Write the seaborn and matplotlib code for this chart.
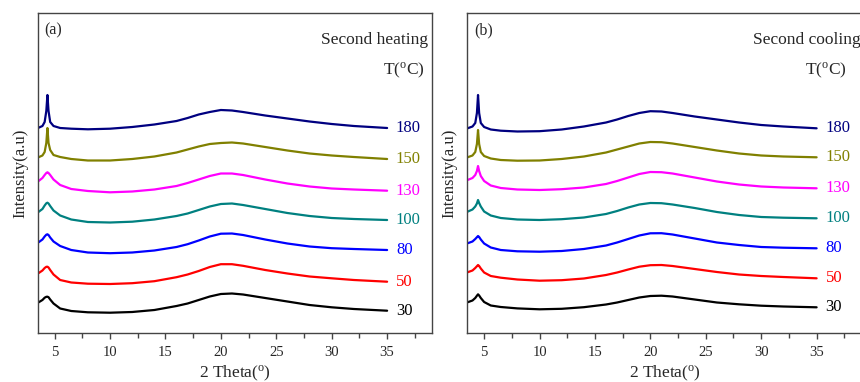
import matplotlib
matplotlib.use("Agg")
import matplotlib.pyplot as plt
import pandas as pd
import seaborn as sns
from matplotlib.ticker import MultipleLocator

# ---------------- data ----------------
temps = ["30", "50", "80", "100", "130", "150", "180"]
colors = ["#000000", "#FF0000", "#0000FF", "#008080", "#FF00FF", "#808000", "#000080"]
xticks = [5, 10, 15, 20, 25, 30, 35]

# (a) Second heating
x_heat = [3.5, 3.9, 4.1, 4.25, 4.35, 4.45, 4.6, 4.9, 5.5, 6.5, 8, 10, 12, 14, 16, 17, 18,
          19, 20, 21, 22, 24, 26, 28, 30, 32, 35]
heat_30 = [30.3, 33, 35.3, 36.2, 36.3, 35.8, 33.5, 29.5, 24.5, 22, 20.7, 20.3, 21, 23, 27,
           29.5, 33, 36.5, 39, 39.5, 38.5, 35, 31.5, 28, 25.7, 24, 22.3]
heat_50 = [59.5, 62.5, 65, 66.2, 66.3, 65.5, 63, 58.5, 53, 50.5, 49.3, 49, 49.8, 51.8, 55.8,
           58.5, 62, 66, 68.8, 68.8, 67.2, 63, 59.5, 56.5, 54.7, 53, 51.3]
heat_80 = [90.3, 93.5, 96.5, 98.3, 98.7, 98, 95.5, 91.5, 87, 83, 80.5, 79.8, 80.5, 82.5, 86,
           88.8, 92.5, 96.5, 99.3, 99.5, 98, 93.5, 89.5, 86.5, 84.8, 84, 83]
heat_100 = [120.7, 124, 127.5, 129.7, 130.3, 129.5, 127, 122.5, 117.5, 113.5, 111, 110.5,
            111.3, 113.5, 117, 119.5, 123, 126.5, 129, 129.5, 128, 124, 120, 117, 115, 114, 113]
heat_130 = [151.5, 155, 158, 160, 160.7, 160, 158, 153.5, 148, 144, 142, 140.7, 141.5, 143.5,
            147, 150, 153.5, 157, 159.5, 159.5, 158, 153.5, 149.5, 146.5, 144.5, 143.5, 142.3]
heat_150 = [175.5, 177.5, 181, 190, 205, 190, 183, 178, 176, 174, 172.5, 172.5, 174, 176.5,
            180.5, 183.5, 186.5, 189, 190, 190.5, 189.5, 186, 182.5, 179.5, 177.5, 176, 174]
heat_180 = [205, 207, 211, 222, 238, 222, 211, 207, 205, 204.3, 203.7, 204.3, 206, 208.5, 212,
            215, 218.5, 221, 223, 222.5, 221, 217.5, 214.5, 211.5, 209, 207, 205]

# (b) Second cooling
x_cool = [3.5, 3.95, 4.2, 4.35, 4.45, 4.55, 4.7, 5.0, 5.6, 6.5, 8, 10, 12, 14, 16, 17, 18,
          19, 20, 21, 22, 24, 26, 28, 30, 32, 35]
cool_30 = [30.7, 32.5, 35, 37.3, 38.7, 37.5, 35, 31, 27.5, 26, 24.6, 23.7, 24.2, 25.8, 28.5,
           30.5, 33, 35.5, 37, 37.3, 36.5, 33.5, 30.5, 28.7, 27.3, 26.5, 25.7]
cool_50 = [60.7, 62.5, 65, 66.8, 68, 67, 64.5, 60.5, 57, 55.3, 53.5, 52.3, 52.8, 54.5, 58,
           60.5, 63.5, 66.3, 67.8, 68, 67, 64, 61, 58.5, 57, 56, 54.7]
cool_80 = [89.7, 91.5, 94, 95.8, 97, 96, 93.5, 89.5, 85.5, 83, 81.7, 81.3, 82, 84, 87.5, 90.5,
           94, 97.5, 99.7, 99.8, 98.5, 94.5, 90.5, 88, 86, 85.3, 84.7]
cool_100 = [121.3, 123.5, 126.5, 129.5, 133, 130, 126.5, 121.5, 117.5, 115, 113.5, 113, 113.8,
            115.5, 119, 122, 125.5, 128.5, 130, 129.8, 128.5, 125, 121, 118, 116, 115.3, 114.7]
cool_130 = [153, 155, 158, 162, 167, 162, 157, 152, 147.5, 145, 143.5, 143, 143.8, 145.5, 149,
            152, 155.5, 159, 161, 160.8, 159.5, 155.5, 151.5, 148.5, 146.5, 145.5, 144.7]
cool_150 = [175.7, 177.5, 181, 189, 203, 189, 181, 177, 174.5, 173, 172.3, 172.5, 174, 176.5,
            180.5, 183.5, 186.5, 189.5, 191, 190.8, 189.5, 186, 182.5, 179.5, 177.5, 176.5, 175.7]
cool_180 = [204.7, 206.5, 210, 220, 238, 220, 210, 206, 203.5, 202.3, 201.5, 201.8, 203.5,
            206.5, 210.5, 213.5, 217, 220, 221.8, 221.5, 220, 216.5, 213.5, 210.5, 208, 206.5,
            204.7]

heat_series = [heat_30, heat_50, heat_80, heat_100, heat_130, heat_150, heat_180]
cool_series = [cool_30, cool_50, cool_80, cool_100, cool_130, cool_150, cool_180]


def long_df(xs, series):
    rows = []
    for t, ys in zip(temps, series):
        for xv, yv in zip(xs, ys):
            rows.append({"two_theta": xv, "intensity": yv, "T": t})
    return pd.DataFrame(rows)


df_heat = long_df(x_heat, heat_series)
df_cool = long_df(x_cool, cool_series)

# ---------------- style ----------------
sns.set_style("white")
plt.rcParams["font.family"] = ["Liberation Serif", "DejaVu Serif"]
plt.rcParams["mathtext.fontset"] = "custom"
plt.rcParams["mathtext.rm"] = "Liberation Serif"

palette = dict(zip(temps, colors))
spine_col = "#444444"

fig = plt.figure(figsize=(8.6, 3.82), dpi=100)
ax1 = fig.add_axes([38 / 860, 49 / 382, 394 / 860, 320 / 382])
ax2 = fig.add_axes([467.5 / 860, 49 / 382, 394 / 860, 320 / 382])

panels = [
    (ax1, df_heat, heat_series, "(a)", "Second heating", 38.7, 38.4),
    (ax2, df_cool, cool_series, "(b)", "Second cooling", 38.95, 37.7),
]

for ax, df, series, tag, title, tx, tx2 in panels:
    sns.lineplot(data=df, x="two_theta", y="intensity", hue="T", palette=palette,
                 estimator=None, sort=False, legend=False, lw=1.6, ax=ax)
    ax.set_xlim(3.5, 39.05)
    ax.set_ylim(0, 320)
    ax.set_xticks(xticks)
    ax.set_xticklabels([str(v) for v in xticks])
    ax.xaxis.set_minor_locator(MultipleLocator(2.5))
    ax.set_yticks([])
    ax.tick_params(axis="x", which="major", direction="out", length=4, width=1,
                   color=spine_col, labelsize=10.5, pad=5, bottom=True, top=False)
    ax.tick_params(axis="x", which="minor", direction="out", length=3.5, width=1,
                   color=spine_col, bottom=True, top=False)
    for s in ax.spines.values():
        s.set_visible(True)
        s.set_color(spine_col)
        s.set_linewidth(1)
    ax.set_xlabel("2 Theta($\\mathregular{^o}$)", fontsize=12.5, labelpad=4)
    ax.set_ylabel("Intensity(a.u)", fontsize=12, labelpad=7)
    for t, ys, c in zip(temps, series, colors):
        ax.text(35.8, ys[-1], t, color=c, fontsize=12, ha="left", va="center")
    ax.text(4.1, 303, tag, fontsize=11.5, ha="left", va="center")
    ax.text(tx, 293, title, fontsize=12.5, ha="right", va="center")
    ax.text(tx2, 263, "T($\\mathregular{^o}$C)", fontsize=12.5, ha="right", va="center")

fig.savefig("out.png", dpi=100)
